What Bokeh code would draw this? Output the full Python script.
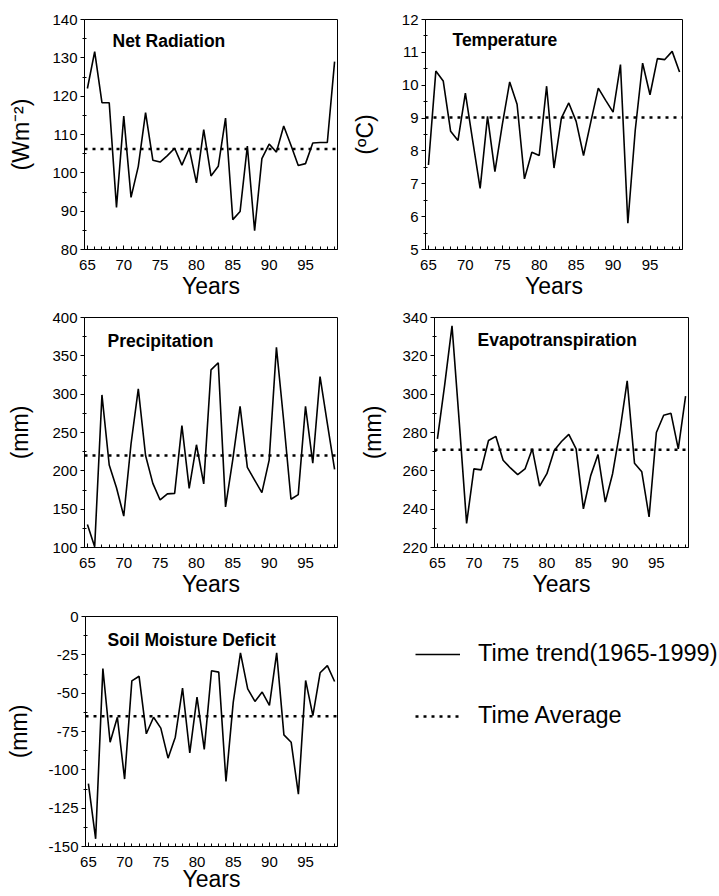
from bokeh.plotting import figure
from bokeh.layouts import row, column
from bokeh.models import FixedTicker, Span, Label, Legend, LegendItem
from bokeh.embed import file_html
from bokeh.resources import INLINE

FONT = "Liberation Sans"

years = [65, 66, 67, 68, 69, 70, 71, 72, 73, 74, 75, 76, 77, 78, 79, 80, 81, 82,
         83, 84, 85, 86, 87, 88, 89, 90, 91, 92, 93, 94, 95, 96, 97, 98, 99]
x_major = [65, 70, 75, 80, 85, 90, 95]

net_rad = [122, 131.6, 118.3, 118.3, 91, 114.8, 93.6, 101.7, 115.7, 103.3, 102.8, 104.5,
           106.4, 102, 106.4, 97.4, 111.3, 99.2, 101.7, 114.3, 87.8, 89.9, 107, 84.9,
           103.7, 107.5, 105.4, 112.2, 107.2, 101.9, 102.4, 107.8, 107.9, 107.9, 129]
net_rad_avg = 106.2

temp = [7.57, 10.43, 10.13, 8.6, 8.32, 9.76, 8.3, 6.86, 9.05, 7.37, 8.8, 10.1, 9.42, 7.15,
        7.96, 7.86, 9.97, 7.48, 9.0, 9.46, 8.9, 7.86, 8.9, 9.91, 9.54, 9.18, 10.63, 5.8,
        8.63, 10.67, 9.71, 10.81, 10.78, 11.03, 10.4]
temp_avg = 9.02

precip = [130, 101, 299, 207.6, 178, 141, 235, 307, 220, 183.6, 162, 170, 170.6, 259, 177,
          234, 183, 331.6, 341, 153, 215, 284, 204.5, 188, 171.5, 214, 361, 265, 163, 169,
          284, 210, 323, 262, 202]
precip_avg = 220

evapo = [276.7, 305, 335.6, 285, 232.6, 261, 260.5, 275.8, 278, 265.5, 261.5, 258, 261,
         271.5, 252, 258.5, 270.6, 275.3, 279, 271.5, 240.2, 257.5, 268.5, 243.7, 258.5,
         280.7, 306.9, 264, 259.5, 236, 280, 289, 290, 271.5, 299]
evapo_avg = 271

smd = [-109, -145, -34, -82, -65.7, -106, -42, -39, -76.5, -65.7, -72.8, -92.4, -78.7,
       -46.7, -89, -52.6, -86.7, -35.4, -36.3, -107.6, -56, -23.7, -47.2, -55.4, -49.3,
       -58, -23.7, -77.2, -82, -115.9, -41.7, -64.6, -36.7, -32, -42.4]
smd_avg = -65

nr_ticks = [80, 90, 100, 110, 120, 130, 140]
t_ticks = [5, 6, 7, 8, 9, 10, 11, 12]
p_ticks = [100, 150, 200, 250, 300, 350, 400]
e_ticks = [220, 240, 260, 280, 300, 320, 340]
s_ticks = [-150, -125, -100, -75, -50, -25, 0]
s_labels = ["-150", "-125", "-100", "-75", "-50", "-25", "0"]

DOT = "3 5"


def panel(title, vals, avg, yr, yticks, ylabel, width, height, ml, mr, mt, mb,
          tx, ty, ylab_stand, xlabel="Years", xlab_stand=0, ylabels=None):
    p = figure(width=width, height=height, min_border_left=ml, min_border_right=mr,
               min_border_top=mt, min_border_bottom=mb,
               x_range=(64.6, 99.4), y_range=yr,
               output_backend="svg", toolbar_location=None)
    p.grid.visible = False
    p.outline_line_color = "black"
    p.outline_line_width = 1
    p.background_fill_color = "white"
    p.border_fill_color = "white"

    step = yticks[1] - yticks[0]
    minors = [v + step / 2 for v in yticks[:-1]]
    p.yaxis.ticker = FixedTicker(ticks=yticks, minor_ticks=minors)
    p.xaxis.ticker = FixedTicker(ticks=x_major, minor_ticks=years)
    if ylabels is not None:
        p.yaxis.major_label_overrides = {t: s for t, s in zip(yticks, ylabels)}

    for ax in (p.xaxis[0], p.yaxis[0]):
        ax.axis_line_color = "black"
        ax.major_tick_line_color = "black"
        ax.minor_tick_line_color = "black"
        ax.major_label_text_font = FONT
        ax.major_label_text_font_size = "15px"
        ax.major_label_text_color = "black"
        ax.axis_label_text_font = FONT
        ax.axis_label_text_font_size = "23px"
        ax.axis_label_text_font_style = "normal"
        ax.axis_label_text_color = "black"

    p.yaxis.major_tick_out = 4
    p.yaxis.major_tick_in = 0
    p.yaxis.minor_tick_out = 2
    p.yaxis.minor_tick_in = 2
    p.yaxis.major_label_standoff = 3
    p.yaxis.axis_label = ylabel
    p.yaxis.axis_label_standoff = ylab_stand

    p.xaxis.major_tick_out = 0
    p.xaxis.major_tick_in = 4
    p.xaxis.minor_tick_out = 0
    p.xaxis.minor_tick_in = 3
    p.xaxis.major_label_standoff = 10
    p.xaxis.axis_label = xlabel
    p.xaxis.axis_label_standoff = xlab_stand

    p.line(years, vals, line_color="black", line_width=1.6)
    p.add_layout(Span(location=avg, dimension="width", line_color="black",
                      line_width=2.5, line_dash=DOT))
    p.add_layout(Label(x=tx, y=230 - ty, x_units="screen", y_units="screen",
                       text=title, text_baseline="top", text_font=FONT,
                       text_font_size="17.5px", text_font_style="bold",
                       text_color="black"))
    return p


# page origin at (0,0); column split at x=348
p1 = panel("Net Radiation", net_rad, net_rad_avg, (80, 140), nr_ticks, "(Wm\u207b\u00b2)",
           348, 309, 84, 11, 19, 60, 28, 11, 15)
p2 = panel("Temperature", temp, temp_avg, (5, 12), t_ticks, "(\u00baC)",
           371, 309, 75, 37, 19, 60, 27, 10, 21)
p3 = panel("Precipitation", precip, precip_avg, (100, 400), p_ticks, "(mm)",
           348, 298, 84, 11, 8, 60, 23, 13, 16)
p4 = panel("Evapotranspiration", evapo, evapo_avg, (220, 340), e_ticks, "(mm)",
           371, 298, 86, 31, 8, 60, 43, 12, 13)
p5 = panel("Soil Moisture Deficit", smd, smd_avg, (-150, 0), s_ticks, "(mm)",
           348, 289, 85, 11, 9, 50, 22, 13, 13, xlab_stand=-4, ylabels=s_labels)

p6 = figure(width=371, height=289, min_border=0, x_axis_location=None,
            y_axis_location=None, x_range=(0, 1), y_range=(0, 1),
            output_backend="svg", toolbar_location=None)
p6.grid.visible = False
p6.outline_line_color = None
# legend sample renderers (their data lie outside this blank panel's view)
r_trend = p6.line(years, smd, line_color="black", line_width=1.6)
r_avg = p6.line(years, smd, line_color="black", line_width=2.5, line_dash=DOT)
legend = Legend(items=[LegendItem(label="Time trend(1965-1999)", renderers=[r_trend]),
                       LegendItem(label="Time Average", renderers=[r_avg])],
                location=(67, 117), orientation="vertical", glyph_width=45,
                glyph_height=26, label_height=26, label_standoff=18, spacing=35,
                padding=0, margin=0, border_line_color=None, background_fill_alpha=0,
                label_text_font=FONT, label_text_font_size="23.5px",
                label_text_color="black")
p6.add_layout(legend)

layout = column(row(p1, p2), row(p3, p4), row(p5, p6))

open("out.html", "w").write(file_html(layout, INLINE))
